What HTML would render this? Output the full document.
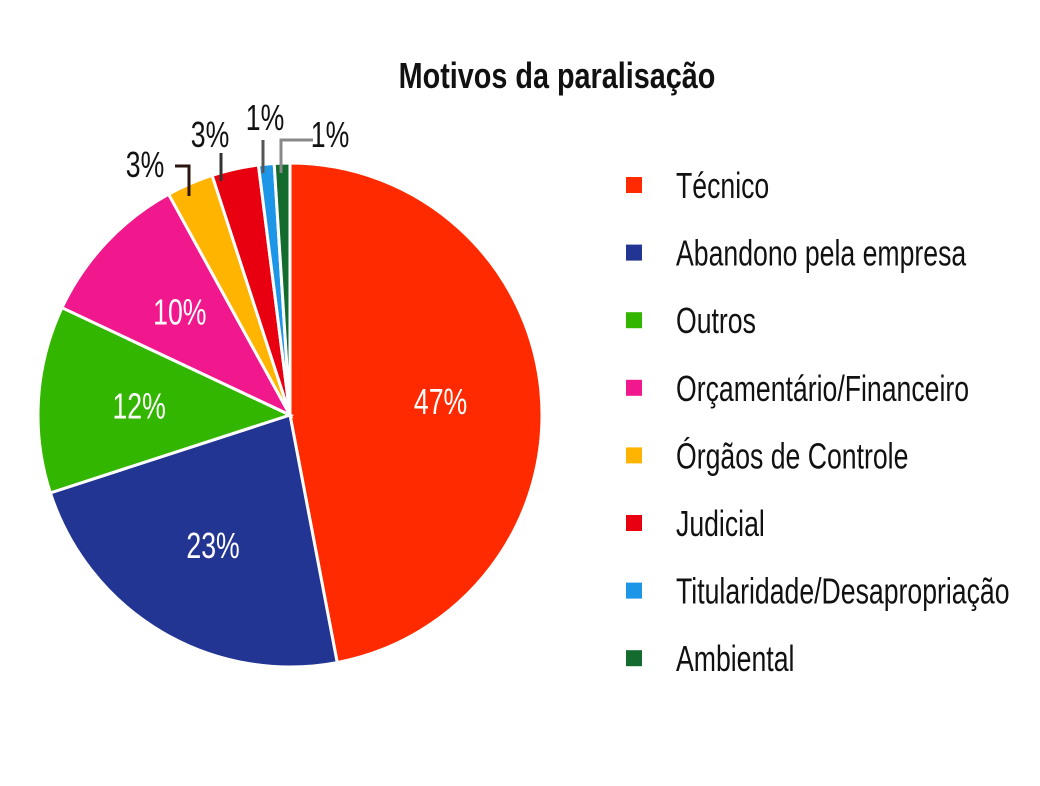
<!DOCTYPE html>
<html><head><meta charset="utf-8">
<style>
html,body{margin:0;padding:0;background:#fff;}
svg{display:block;}
text{font-family:"Liberation Sans Narrow","Liberation Sans",sans-serif;}
</style></head>
<body>
<svg id="chart" width="1040" height="786" viewBox="0 0 1040 786" xmlns="http://www.w3.org/2000/svg">
<text transform="translate(557,88) scale(0.8,1)" x="0" y="0" text-anchor="middle" font-size="36" font-weight="bold" fill="#111">Motivos da paralisação</text>
<g id="slices"></g><g id="labels"></g><g id="legend"></g>
</svg>
<script>
const categories=["Técnico","Abandono pela empresa","Outros","Orçamentário/Financeiro","Órgãos de Controle","Judicial","Titularidade/Desapropriação","Ambiental"];
const values=[47,23,12,10,3,3,1,1];
const colors=["#ff2a00","#233593","#33b600","#f0188c","#ffb400","#e80010","#1e96e8","#146b2e"];
const lineColors=["","","","","#2a1510","#333","#555","#888"];
const NS="http://www.w3.org/2000/svg";
const cx=290,cy=415,R=252,SX=0.74;
const total=values.reduce((a,b)=>a+b,0);
function pt(a,r){return [cx+r*Math.sin(a),cy-r*Math.cos(a)];}
const gS=document.getElementById('slices'),gL=document.getElementById('labels'),gG=document.getElementById('legend');
// leader-line layout for small slices (label position + polyline path)
const outerLayout={
  4:{lx:145,ly:177,d:"M175,166L189,166L189,196"},
  5:{lx:210,ly:147,d:"M221,153L221,181"},
  6:{lx:265,ly:130,d:"M263,140L263,173"},
  7:{lx:330,ly:147,d:"M313,140L281,140L281,173"}
};
function addText(str,x,y,size,fill,anchor){
  const t=document.createElementNS(NS,'text');
  t.textContent=str;
  t.setAttribute('transform',`translate(${x},${y}) scale(${SX},1)`);
  t.setAttribute('x',0);t.setAttribute('y',0);
  t.setAttribute('text-anchor',anchor);t.setAttribute('font-size',size);t.setAttribute('fill',fill);
  return t;
}
let acc=0;
values.forEach((v,i)=>{
  const a0=acc/total*2*Math.PI; acc+=v; const a1=acc/total*2*Math.PI;
  const p0=pt(a0,R),p1=pt(a1,R);
  const p=document.createElementNS(NS,'path');
  p.setAttribute('d',`M${cx},${cy}L${p0[0]},${p0[1]}A${R},${R} 0 ${a1-a0>Math.PI?1:0} 1 ${p1[0]},${p1[1]}Z`);
  p.setAttribute('fill',colors[i]);p.setAttribute('stroke','#fff');p.setAttribute('stroke-width','3');
  
  
  gS.appendChild(p);
  const am=(a0+a1)/2;
  let t;
  if(v>=5){
    const lp=pt(am,R*0.6);
    t=addText(v+'%',lp[0],lp[1]+13,36,'#fff','middle');
  } else {
    const o=outerLayout[i];
    const l=document.createElementNS(NS,'path');
    l.setAttribute('d',o.d);l.setAttribute('stroke',lineColors[i]);l.setAttribute('stroke-width','3');l.setAttribute('fill','none');
    
    
    gL.appendChild(l);
    t=addText(v+'%',o.lx,o.ly,36,'#111','middle');
  }
  
  
  gL.appendChild(t);
  const y=185+i*67.6;
  const r=document.createElementNS(NS,'rect');
  r.setAttribute('x',626);r.setAttribute('y',y-8);r.setAttribute('width',16);r.setAttribute('height',16);r.setAttribute('fill',colors[i]);
  
  
  gG.appendChild(r);
  const lt=addText(categories[i],676,y+13,36,'#111','start');
  
  
  gG.appendChild(lt);
});
</script>
</body></html>
